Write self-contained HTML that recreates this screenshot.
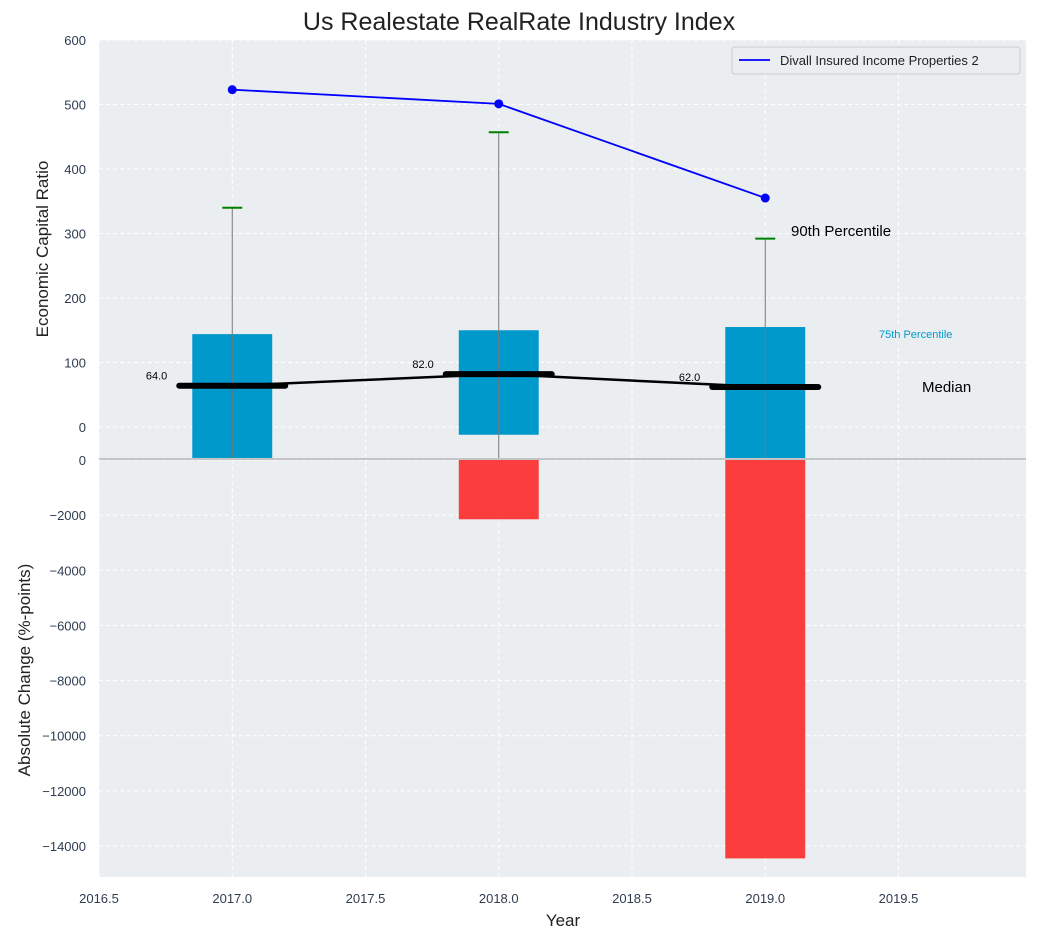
<!DOCTYPE html>
<html><head><meta charset="utf-8"><style>
body{margin:0;background:#fff;font-family:"Liberation Sans",sans-serif;}
svg text{font-family:"Liberation Sans",sans-serif;}
</style></head><body>
<svg id="chart" width="1038" height="940" xmlns="http://www.w3.org/2000/svg"></svg>
<script>
const years=[2017,2018,2019];
const p75=[144,150,155];
const barBase=[-48,-12,-48];
const p90=[340,457,292];
const medians=[64,82,62];
const company=[523,501,355];
const absChange=[0,-2150,-14450];
const xTicks=[2016.5,2017.0,2017.5,2018.0,2018.5,2019.0,2019.5];
const topTicks=[0,100,200,300,400,500,600];
const botTicks=[0,-2000,-4000,-6000,-8000,-10000,-12000,-14000];

const svg=document.getElementById('chart');
const NS='http://www.w3.org/2000/svg';
function el(t,a,p){const e=document.createElementNS(NS,t);for(const k in a)e.setAttribute(k,a[k]);(p||svg).appendChild(e);return e;}
const L=99,R=1026,T1=40,B1=458,T2=460,B2=877;
const x=v=>L+(v-2016.5)*266.5;
const y1=v=>427-v*0.645;
function yb(v){return 460+(-v)*386/14000;}

let bg=el('rect',{x:L,y:T1,width:R-L,height:B1-T1,fill:'#eaeef0'});

let bg2=el('rect',{x:L,y:T2,width:R-L,height:B2-T2,fill:'#eaeef0'});


xTicks.forEach(t=>{
  el('line',{x1:x(t),x2:x(t),y1:T1,y2:B1,stroke:'#fff','stroke-dasharray':'4,3'});
  el('line',{x1:x(t),x2:x(t),y1:T2,y2:B2,stroke:'#fff','stroke-dasharray':'4,3'});
  const tx=el('text',{x:x(t),y:903,'text-anchor':'middle','font-size':13,fill:'#2e3c50'});tx.textContent=t.toFixed(1);
  
});
topTicks.forEach(t=>{
  el('line',{x1:L,x2:R,y1:y1(t),y2:y1(t),stroke:'#fff','stroke-dasharray':'4,3'});
  const tx=el('text',{x:86,y:y1(t)+5,'text-anchor':'end','font-size':13,fill:'#2e3c50'});tx.textContent=t;
  
});
botTicks.forEach(t=>{
  el('line',{x1:L,x2:R,y1:yb(t),y2:yb(t),stroke:'#fff','stroke-dasharray':'4,3'});
  const tx=el('text',{x:86,y:yb(t)+5,'text-anchor':'end','font-size':13,fill:'#2e3c50'});tx.textContent=t===0?'0':'\u2212'+(-t);
  
});
el('line',{x1:L,x2:R,y1:459,y2:459,stroke:'#b0b0b0','stroke-width':1.5});

const bw=0.3*266.5;
years.forEach((yr,i)=>{
  const b=el('rect',{x:x(yr)-bw/2,y:y1(p75[i]),width:bw,height:y1(barBase[i])-y1(p75[i]),fill:'#0099cc'});
  
  const w=el('line',{x1:x(yr),x2:x(yr),y1:B1,y2:y1(p90[i]),stroke:'#777','stroke-width':1});
  
  const c=el('line',{x1:x(yr)-10,x2:x(yr)+10,y1:y1(p90[i]),y2:y1(p90[i]),stroke:'green','stroke-width':2});
  
  if(absChange[i]<0){
    const r=el('rect',{x:x(yr)-bw/2,y:yb(0),width:bw,height:yb(absChange[i])-yb(0),fill:'#fc3d3d'});
    
  }
});
const mp=years.map((yr,i)=>x(yr)+','+y1(medians[i])).join(' ');
const ml=el('polyline',{points:mp,fill:'none',stroke:'#000','stroke-width':2.5});

years.forEach((yr,i)=>{
  const m=el('line',{x1:x(yr)-53,x2:x(yr)+53,y1:y1(medians[i]),y2:y1(medians[i]),stroke:'#000','stroke-width':6,'stroke-linecap':'round'});
  
  const t=el('text',{x:x(yr)-65,y:y1(medians[i])-6,'text-anchor':'end','font-size':11,fill:'#000'});t.textContent=medians[i].toFixed(1);
  
});
const cp=years.map((yr,i)=>x(yr)+','+y1(company[i])).join(' ');
const cl=el('polyline',{points:cp,fill:'none',stroke:'blue','stroke-width':1.8});

years.forEach((yr,i)=>{
  const d=el('circle',{cx:x(yr),cy:y1(company[i]),r:4.5,fill:'blue'});
  
});
function txt(s,a,name){const t=el('text',a);t.textContent=s;return t;}
txt('90th Percentile',{x:791,y:236,'font-size':15,fill:'#000'},'p90-annotation');
txt('75th Percentile',{x:879,y:338,'font-size':11,fill:'#0099cc'},'p75-annotation');
txt('Median',{x:922,y:392,'font-size':15,fill:'#000'},'median-annotation');
txt('Us Realestate RealRate Industry Index',{x:519,y:30,'text-anchor':'middle','font-size':25,fill:'#222'},'chart-title');
txt('Year',{x:563,y:926,'text-anchor':'middle','font-size':17,fill:'#222'},'x-axis-title');
txt('Economic Capital Ratio',{x:48,y:249,'text-anchor':'middle','font-size':17,fill:'#222',transform:'rotate(-90 48 249)'},'top-y-axis-title');
txt('Absolute Change (%-points)',{x:30,y:670,'text-anchor':'middle','font-size':17,fill:'#222',transform:'rotate(-90 30 670)'},'bottom-y-axis-title');
const lg=el('g',{});
el('rect',{x:732,y:47,width:288,height:27,fill:'#eaeef0',stroke:'#ccc',rx:3},lg);
el('line',{x1:739,x2:770,y1:60,y2:60,stroke:'blue','stroke-width':1.8},lg);
const lt=el('text',{x:780,y:65,'font-size':13,fill:'#222'},lg);lt.textContent='Divall Insured Income Properties 2';

</script>
</body></html>
